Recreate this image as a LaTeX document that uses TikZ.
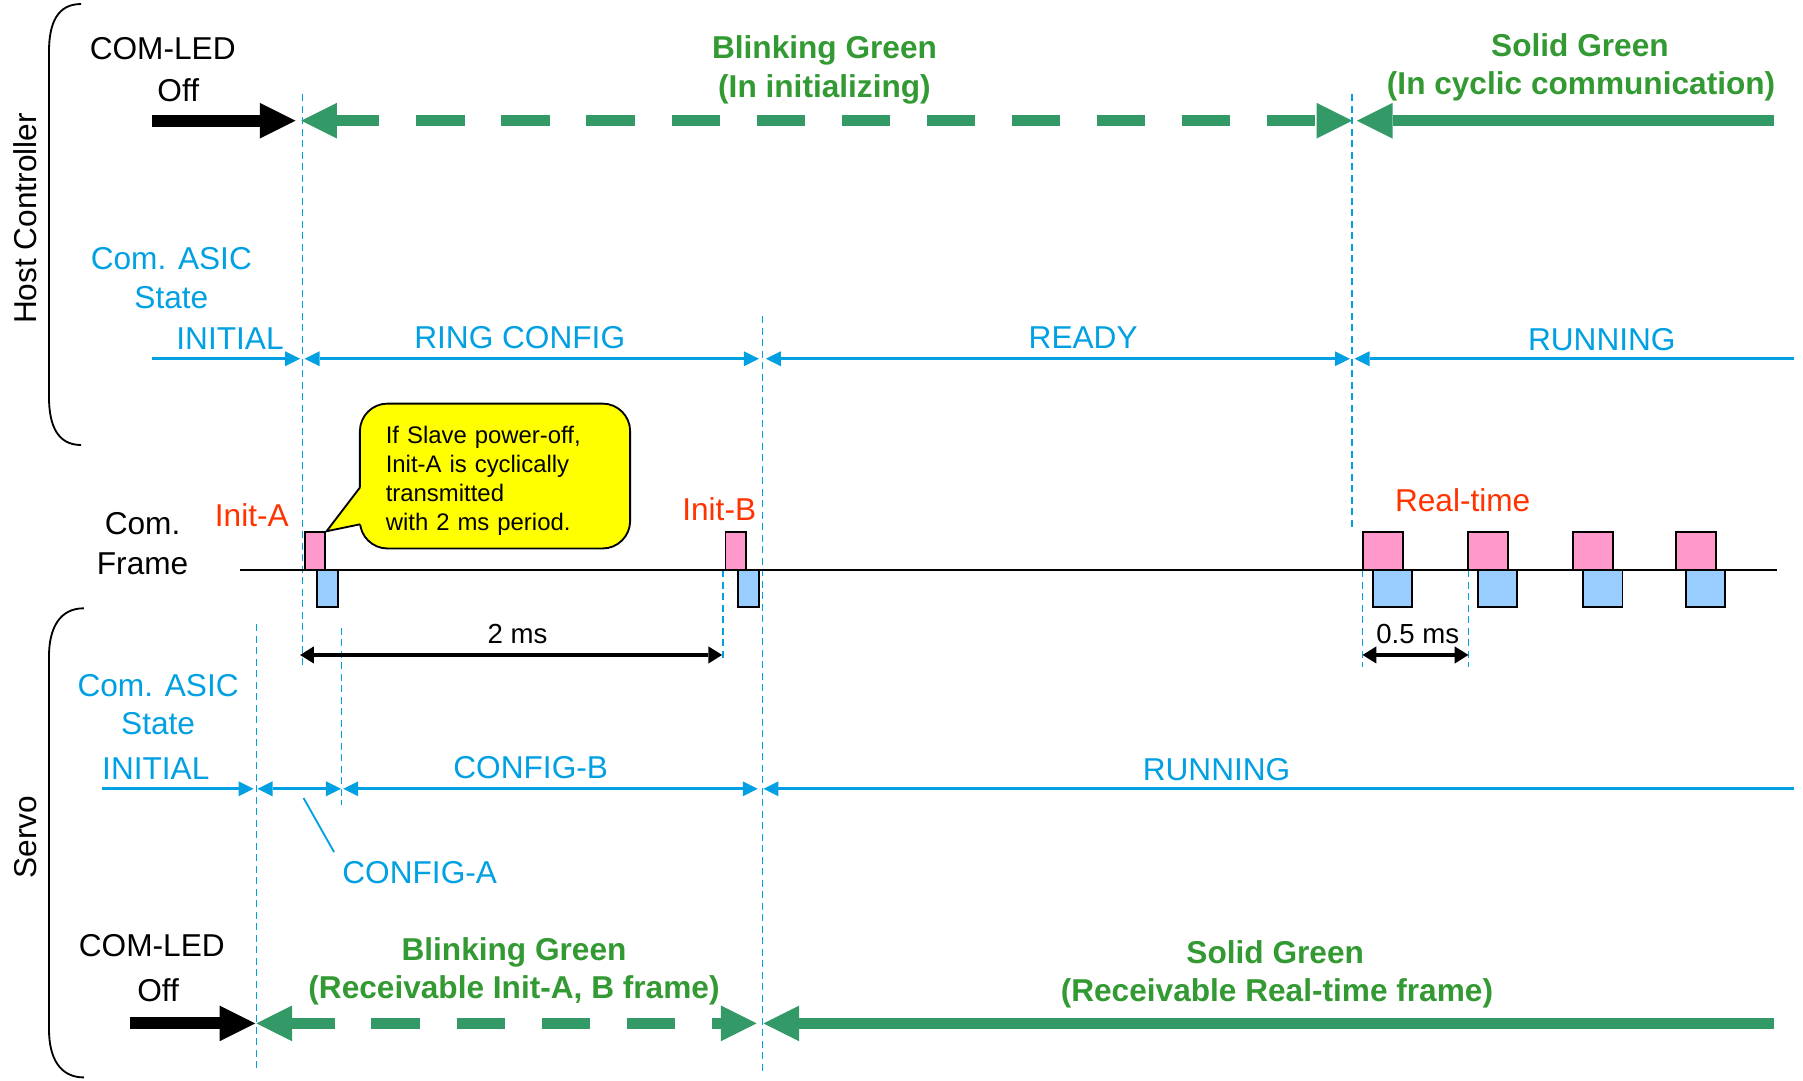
\documentclass[tikz,border=0pt]{standalone}
\usepackage{fontspec}
\setmainfont{Liberation Sans}
\usetikzlibrary{arrows.meta}
\definecolor{cy}{RGB}{0,160,226}
\definecolor{gled}{RGB}{51,153,102}
\definecolor{gtxt}{RGB}{51,153,51}
\definecolor{redc}{RGB}{255,51,0}
\definecolor{pinkc}{RGB}{255,153,204}
\definecolor{bluec}{RGB}{153,204,255}
\definecolor{yelc}{RGB}{255,255,0}
\tikzset{
  ledtip/.tip={Triangle[length=15.5pt,width=15.5pt,line width=0pt]},
  sttip/.tip={Triangle[length=6.5pt,width=6.5pt,line width=0pt]},
  dimtip/.tip={Triangle[length=6pt,width=7.5pt,line width=0pt]},
}
\begin{document}
\begin{tikzpicture}[x=0.5pt,y=-0.5pt,
  lbl/.style={anchor=base, inner sep=0pt, font=\fontsize{13.75pt}{16pt}\selectfont},
  cylbl/.style={lbl, text=cy},
  grlbl/.style={lbl, text=gtxt, font=\fontsize{13.75pt}{16pt}\selectfont\bfseries},
  redlbl/.style={lbl, text=redc},
  smlbl/.style={lbl, font=\fontsize{12pt}{14pt}\selectfont},
  vdash/.style={cy, line width=0.75pt, dash pattern=on 3pt off 2pt},
  stline/.style={cy, line width=1.2pt},
  blkled/.style={black, line width=5.2pt},
  grnled/.style={gled, line width=5pt},
  grndash/.style={grnled, dash pattern=on 21pt off 16pt, dash phase=2.5pt},
  dimline/.style={black, line width=1.5pt},
  brk/.style={black, line width=0.8pt},
  pinkbox/.style={draw=black, fill=pinkc, line width=0.8pt},
  bluebox/.style={draw=black, fill=bluec, line width=0.8pt},
]
\useasboundingbox (0,0) rectangle (1568,940);

% ---------- brackets and side labels ----------
\draw[brk] (70.5,3.5) .. controls (50,3.5) and (42.6,20) .. (42.6,45) -- (42.6,345) .. controls (42.6,370) and (50,387) .. (70.5,387);
\draw[brk] (73,529) .. controls (52,529) and (42.6,546) .. (42.6,571) -- (42.6,895) .. controls (42.6,920) and (52,937) .. (73,937);
\node[lbl, anchor=center, rotate=90] (hc) at (21.6,190) {Host Controller};
\node[lbl, anchor=center, rotate=90] (servo) at (22,728) {Servo};

% ---------- vertical dashed guides ----------
\coordinate (v1a) at (263,82);   \coordinate (v1b) at (263,578);
\coordinate (v2a) at (663,275);  \coordinate (v2b) at (663,933);
\coordinate (v3a) at (1176,82);  \coordinate (v3b) at (1176,458);
\coordinate (v4a) at (223,543);  \coordinate (v4b) at (223,929);
\coordinate (v5a) at (297,546);  \coordinate (v5b) at (297,700);
\coordinate (v6a) at (629,496);  \coordinate (v6b) at (629,575);
\coordinate (v7a) at (1185,496); \coordinate (v7b) at (1185,580);
\coordinate (v8a) at (1277,496); \coordinate (v8b) at (1277,580);
\foreach \i in {1,...,8} { \draw[vdash] (v\i a) -- (v\i b); }

% ---------- host COM-LED ----------
\node[lbl] (hled) at (141.5,52) {COM-LED};
\node[lbl] (hoff) at (155,88) {Off};
\node[grlbl] (hbg1) at (717,50.5) {Blinking Green};
\node[grlbl] (hbg2) at (717,85) {(In initializing)};
\node[grlbl] (hsg1) at (1374,49) {Solid Green};
\node[grlbl] (hsg2) at (1375,82) {(In cyclic communication)};
\coordinate (hA) at (132,105);  \coordinate (hB) at (257,105);
\coordinate (hC) at (262,105);  \coordinate (hD) at (1176,105);
\coordinate (hE) at (1180,105); \coordinate (hF) at (1543,105);
\draw[blkled, -ledtip] (hA) -- (hB);
\draw[grndash, ledtip-ledtip] (hC) -- (hD);
\draw[grnled, ledtip-] (hE) -- (hF);

% ---------- host ASIC state ----------
\node[cylbl] (has1) at (149,234.5) {Com. ASIC};
\node[cylbl] (has2) at (149,268) {State};
\node[cylbl] (hinit) at (200,304) {INITIAL};
\node[cylbl] (hring) at (452,303) {RING CONFIG};
\node[cylbl] (hready) at (942,303.5) {READY};
\node[cylbl] (hrun) at (1393,305) {RUNNING};
\coordinate (sA) at (132,312);  \coordinate (sB) at (261,312);
\coordinate (sC) at (265,312);  \coordinate (sD) at (660,312);
\coordinate (sE) at (666,312);  \coordinate (sF) at (1174,312);
\coordinate (sG) at (1178,312); \coordinate (sH) at (1560,312);
\draw[stline, -sttip] (sA) -- (sB);
\draw[stline, sttip-sttip] (sC) -- (sD);
\draw[stline, sttip-sttip] (sE) -- (sF);
\draw[stline, sttip-] (sG) -- (sH);

% ---------- communication frames ----------
\node[lbl] (cf1) at (124,465) {Com.};
\node[lbl] (cf2) at (124,500) {Frame};
\node[redlbl] (inita) at (219,458) {Init-A};
\node[redlbl] (initb) at (625.5,453) {Init-B};
\node[redlbl] (rt) at (1272,445) {Real-time};
\coordinate (fA) at (208.6,495.6); \coordinate (fB) at (1545,495.6);
\draw[black, line width=1pt] (fA) -- (fB);
\draw[pinkbox] (265,463) rectangle (283,496);
\draw[bluebox] (275.5,496) rectangle (294,528);
\draw[pinkbox] (631,463) rectangle (649,496);
\draw[bluebox] (642,496) rectangle (660,528);
\foreach \px in {1185,1276.5,1368,1457.5} {
  \draw[pinkbox] (\px,463) rectangle (\px+35,496);
  \draw[bluebox] (\px+9,496) rectangle (\px+43,528);
}

% ---------- callout ----------
\node[draw=black, fill=yelc, rounded corners=12pt, line width=0.8pt,
      minimum width=117.5pt, minimum height=63pt, inner sep=0pt] (callout) at (430.5,414) {};
\coordinate (cpA) at (313,424); \coordinate (cpT) at (284,462); \coordinate (cpB) at (313,456);
\fill[yelc] (cpA) -- (cpT) -- (cpB) -- (316,456) -- (316,424) -- cycle;
\draw[black, line width=0.8pt] (cpA) -- (cpT) -- (cpB);
\node[anchor=center, text width=95pt, align=left, inner sep=0pt,
      font=\fontsize{10.4pt}{12.65pt}\selectfont] (ctext) at (430.5,418)
  {If Slave power-off,\\Init-A is cyclically\\transmitted\\with 2 ms period.};

% ---------- dimensions ----------
\node[smlbl] (tms) at (450,559.6) {2 ms};
\node[smlbl] (hms) at (1233,560) {0.5 ms};
\coordinate (dA) at (261,569.6);  \coordinate (dB) at (628,569.6);
\coordinate (dC) at (1185,569.6); \coordinate (dD) at (1277,569.6);
\draw[dimline, dimtip-dimtip] (dA) -- (dB);
\draw[dimline, dimtip-dimtip] (dC) -- (dD);

% ---------- servo ASIC state ----------
\node[cylbl] (sas1) at (137.5,606) {Com. ASIC};
\node[cylbl] (sas2) at (137.5,639) {State};
\node[cylbl] (sinit) at (135.5,678) {INITIAL};
\node[cylbl] (scfb) at (461.5,677) {CONFIG-B};
\node[cylbl] (srun) at (1058,679) {RUNNING};
\node[cylbl] (scfa) at (365,768) {CONFIG-A};
\coordinate (tA) at (89,686);   \coordinate (tB) at (220.5,686);
\coordinate (tC) at (224,686);  \coordinate (tD) at (296.5,686);
\coordinate (tE) at (298.5,686);\coordinate (tF) at (659,686);
\coordinate (tG) at (664,686);  \coordinate (tH) at (1560,686);
\draw[stline, -sttip] (tA) -- (tB);
\draw[stline, sttip-sttip] (tC) -- (tD);
\draw[stline, sttip-sttip] (tE) -- (tF);
\draw[stline, sttip-] (tG) -- (tH);
\coordinate (ldA) at (264,694); \coordinate (ldB) at (290.5,741);
\draw[cy, line width=0.8pt] (ldA) -- (ldB);

% ---------- servo COM-LED ----------
\node[lbl] (sled) at (132,832) {COM-LED};
\node[lbl] (soff) at (137.5,871) {Off};
\node[grlbl] (sbg1) at (447,835) {Blinking Green};
\node[grlbl] (sbg2) at (447,868) {(Receivable Init-A, B frame)};
\node[grlbl] (ssg1) at (1109,838) {Solid Green};
\node[grlbl] (ssg2) at (1110.5,871) {(Receivable Real-time frame)};
\coordinate (uA) at (113,890);  \coordinate (uB) at (222,890);
\coordinate (uC) at (223,890);  \coordinate (uD) at (658,890);
\coordinate (uE) at (664,890);  \coordinate (uF) at (1543,890);
\draw[blkled, -ledtip] (uA) -- (uB);
\draw[grndash, ledtip-ledtip] (uC) -- (uD);
\draw[grnled, ledtip-] (uE) -- (uF);
\end{tikzpicture}
\end{document}
